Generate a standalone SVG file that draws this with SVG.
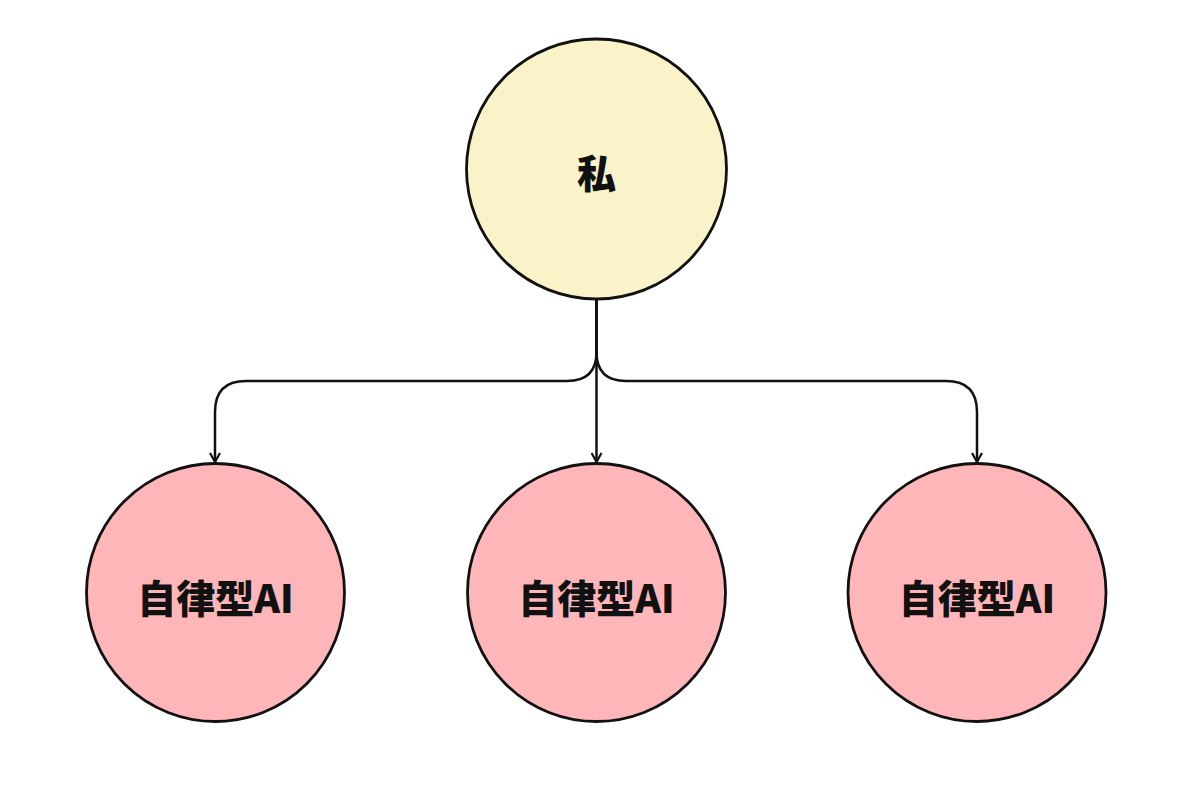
<svg xmlns="http://www.w3.org/2000/svg" width="1200" height="793" viewBox="0 0 1200 793">
<style>
.node{stroke:#111;stroke-width:2.8}
.top{fill:#FAF3C9}
.ai{fill:#FEB6B8}
.lbl{font-family:"Noto Sans CJK JP","Noto Sans",sans-serif;font-weight:900;font-size:39px;fill:#111;text-anchor:middle;dominant-baseline:central}
.conn{fill:none;stroke:#111;stroke-width:2.5}
</style>
<defs>
<marker id="arr" viewBox="0 0 12 12" refX="10" refY="6" markerWidth="12" markerHeight="12" markerUnits="userSpaceOnUse" orient="auto">
<path d="M1,1 L10,6 L1,11" fill="none" stroke="#111" stroke-width="2.2"/>
</marker>
</defs>
<rect width="1200" height="793" fill="#fff"/>
<g id="connectors">
<path class="conn" d="M596.5,299 V462" marker-end="url(#arr)"/>
<path class="conn" d="M596.5,299 V352 Q596.5,381 567,381 H246 Q215,381 215,412 V462" marker-end="url(#arr)"/>
<path class="conn" d="M596.5,299 V352 Q596.5,381 626,381 H946 Q977,381 977,412 V462" marker-end="url(#arr)"/>
</g>
<g id="node-me">
<circle class="node top" cx="596.5" cy="169" r="130"/>
<text class="lbl" x="596.5" y="171">私</text>
</g>
<g id="node-ai-1">
<circle class="node ai" cx="215.5" cy="592.5" r="129"/>
<text class="lbl" x="215.5" y="596">自律型AI</text>
</g>
<g id="node-ai-2">
<circle class="node ai" cx="596.5" cy="592.5" r="129"/>
<text class="lbl" x="596.5" y="596">自律型AI</text>
</g>
<g id="node-ai-3">
<circle class="node ai" cx="977" cy="592.5" r="129"/>
<text class="lbl" x="977" y="596">自律型AI</text>
</g>
</svg>
